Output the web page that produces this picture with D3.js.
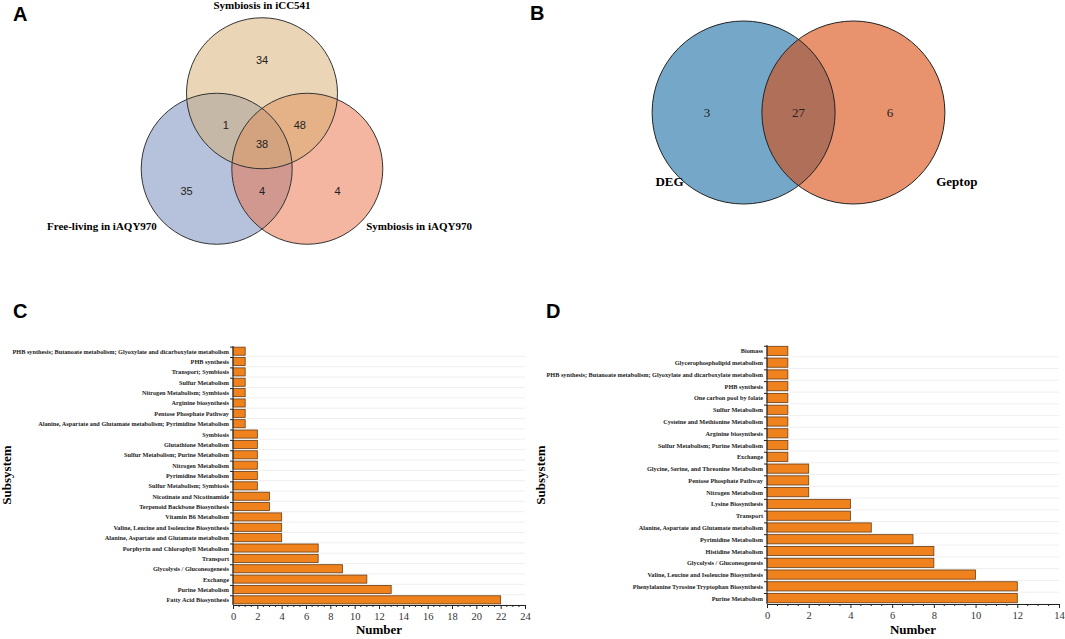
<!DOCTYPE html>
<html>
<head>
<meta charset="utf-8">
<script src="https://cdn.jsdelivr.net/npm/d3@7"></script>
<style>
body { margin: 0; background: #fff; }
svg { display: block; }
</style>
</head>
<body>
<div id="fig"></div>
<script>
// panel A: three-set venn
var vennASets = ["Symbiosis in iCC541", "Free-living in iAQY970", "Symbiosis in iAQY970"];
// regions: top only, top+left, top+right, all, left only, left+right, right only
var vennACounts = [34, 1, 48, 38, 35, 4, 4];

// panel B: two-set venn
var vennBSets = ["DEG", "Geptop"];
var vennBCounts = [3, 27, 6];

// panel C
var subsC = [
  "PHB synthesis; Butanoate metabolism; Glyoxylate and dicarboxylate metabolism",
  "PHB synthesis",
  "Transport; Symbiosis",
  "Sulfur Metabolism",
  "Nitrogen Metabolism; Symbiosis",
  "Arginine biosynthesis",
  "Pentose Phosphate Pathway",
  "Alanine, Aspartate and Glutamate metabolism; Pyrimidine Metabolism",
  "Symbiosis",
  "Glutathione Metabolism",
  "Sulfur Metabolism; Purine Metabolism",
  "Nitrogen Metabolism",
  "Pyrimidine Metabolism",
  "Sulfur Metabolism; Symbiosis",
  "Nicotinate and Nicotinamide",
  "Terpenoid Backbone Biosynthesis",
  "Vitamin B6 Metabolism",
  "Valine, Leucine and Isoleucine Biosynthesis",
  "Alanine, Aspartate and Glutamate metabolism",
  "Porphyrin and Chlorophyll Metabolism",
  "Transport",
  "Glycolysis / Gluconeogenesis",
  "Exchange",
  "Purine Metabolism",
  "Fatty Acid Biosynthesis"
];
var numC = [1, 1, 1, 1, 1, 1, 1, 1, 2, 2, 2, 2, 2, 2, 3, 3, 4, 4, 4, 7, 7, 9, 11, 13, 22];
var ticksC = [0, 2, 4, 6, 8, 10, 12, 14, 16, 18, 20, 22, 24];

// panel D
var subsD = [
  "Biomass",
  "Glycerophospholipid metabolism",
  "PHB synthesis; Butanoate metabolism; Glyoxylate and dicarboxylate metabolism",
  "PHB synthesis",
  "One carbon pool by folate",
  "Sulfur Metabolism",
  "Cysteine and Methionine Metabolism",
  "Arginine biosynthesis",
  "Sulfur Metabolism; Purine Metabolism",
  "Exchange",
  "Glycine, Serine, and Threonine Metabolism",
  "Pentose Phosphate Pathway",
  "Nitrogen Metabolism",
  "Lysine Biosynthesis",
  "Transport",
  "Alanine, Aspartate and Glutamate metabolism",
  "Pyrimidine Metabolism",
  "Histidine Metabolism",
  "Glycolysis / Gluconeogenesis",
  "Valine, Leucine and Isoleucine Biosynthesis",
  "Phenylalanine Tyrosine Tryptophan Biosynthesis",
  "Purine Metabolism"
];
var numD = [1, 1, 1, 1, 1, 1, 1, 1, 1, 1, 2, 2, 2, 4, 4, 5, 7, 8, 8, 10, 12, 12];
var ticksD = [0, 2, 4, 6, 8, 10, 12, 14];

var serif = "'Liberation Serif', 'Times New Roman', serif";
var sans = "'Liberation Sans', Arial, sans-serif";

var svg = d3.select("#fig").append("svg")
    .attr("width", 1065)
    .attr("height", 639);

// panel letters
[["A", 13, 21], ["B", 530, 20], ["C", 13, 318], ["D", 546, 318]].forEach(function(p) {
  svg.append("text")
      .attr("x", p[1]).attr("y", p[2])
      .style("font-family", sans).style("font-weight", "bold").style("font-size", "20px")
      .text(p[0]);
});

// ---------- venn A ----------
// unit layout, scaled by circle radius
var rA = 75.5;
var ax = d3.scaleLinear().domain([0, 1]).range([262, 262 + rA]);
var ay = d3.scaleLinear().domain([0, 1]).range([131, 131 + rA]);
var circA = [
  {name: vennASets[1], cx: -0.6, cy: 0.5, fill: "#6d85b9"},
  {name: vennASets[2], cx: 0.6, cy: 0.5, fill: "#e96d41"},
  {name: vennASets[0], cx: 0, cy: -0.5, fill: "#d5ad6f"}
];
var gA = svg.append("g");
gA.selectAll("circle.fill")
    .data(circA)
    .enter().append("circle")
    .attr("class", "fill")
    .attr("cx", function(d) { return ax(d.cx); })
    .attr("cy", function(d) { return ay(d.cy); })
    .attr("r", rA)
    .attr("fill", function(d) { return d.fill; })
    .attr("fill-opacity", 0.5);
gA.selectAll("circle.edge")
    .data(circA)
    .enter().append("circle")
    .attr("class", "edge")
    .attr("cx", function(d) { return ax(d.cx); })
    .attr("cy", function(d) { return ay(d.cy); })
    .attr("r", rA)
    .attr("fill", "none")
    .attr("stroke", "#333")
    .attr("stroke-width", 1);

var posA = [[0, -0.94], [-0.48, -0.08], [0.5, -0.08], [0, 0.17], [-1.0, 0.8], [0, 0.8], [1.0, 0.8]];
gA.selectAll("text.count")
    .data(vennACounts)
    .enter().append("text")
    .attr("class", "count")
    .attr("x", function(d, i) { return ax(posA[i][0]); })
    .attr("y", function(d, i) { return ay(posA[i][1]); })
    .attr("text-anchor", "middle")
    .attr("dominant-baseline", "central")
    .style("font-family", sans).style("font-size", "11px").style("fill", "#222")
    .text(function(d) { return d; });

var labA = [[0, -1.62, "middle"], [-2.12, 1.31, "middle"], [2.08, 1.31, "middle"]];
gA.selectAll("text.set")
    .data(vennASets)
    .enter().append("text")
    .attr("class", "set")
    .attr("x", function(d, i) { return ax(labA[i][0]); })
    .attr("y", function(d, i) { return ay(labA[i][1]); })
    .attr("text-anchor", "middle")
    .style("font-family", serif).style("font-weight", "bold").style("font-size", "11px")
    .text(function(d) { return d; });

// ---------- venn B ----------
var rB = 91.5;
var bx = d3.scaleLinear().domain([0, 1]).range([798.5, 798.5 + rB]);
var by = d3.scaleLinear().domain([0, 1]).range([112.5, 112.5 + rB]);
var circB = [
  {name: vennBSets[0], cx: -0.6, fill: "#176ca3"},
  {name: vennBSets[1], cx: 0.6, fill: "#d9490d"}
];
var gB = svg.append("g");
gB.selectAll("circle.fill")
    .data(circB)
    .enter().append("circle")
    .attr("class", "fill")
    .attr("cx", function(d) { return bx(d.cx); })
    .attr("cy", by(0))
    .attr("r", rB)
    .attr("fill", function(d) { return d.fill; })
    .attr("fill-opacity", 0.6);
gB.selectAll("circle.edge")
    .data(circB)
    .enter().append("circle")
    .attr("class", "edge")
    .attr("cx", function(d) { return bx(d.cx); })
    .attr("cy", by(0))
    .attr("r", rB)
    .attr("fill", "none")
    .attr("stroke", "#222")
    .attr("stroke-width", 1);
var posB = [-1.0, 0, 1.0];
gB.selectAll("text.count")
    .data(vennBCounts)
    .enter().append("text")
    .attr("class", "count")
    .attr("x", function(d, i) { return bx(posB[i]); })
    .attr("y", by(0))
    .attr("text-anchor", "middle")
    .attr("dominant-baseline", "central")
    .style("font-family", serif).style("font-size", "13px").style("fill", "#222")
    .text(function(d) { return d; });
var labB = [[-1.41, 0.8], [1.73, 0.8]];
gB.selectAll("text.set")
    .data(vennBSets)
    .enter().append("text")
    .attr("class", "set")
    .attr("x", function(d, i) { return bx(labB[i][0]); })
    .attr("y", function(d, i) { return by(labB[i][1]); })
    .attr("text-anchor", "middle")
    .style("font-family", serif).style("font-weight", "bold").style("font-size", "13px")
    .text(function(d) { return d; });

// ---------- bar charts ----------
function barChart(cats, vals, ticks, box) {
  var g = svg.append("g");
  var x = d3.scaleLinear().domain([0, ticks[ticks.length - 1]]).range([box.x0, box.x1]);
  var y = d3.scaleBand().domain(cats).range([box.y0, box.y1]).paddingInner(0.22).paddingOuter(0.11);
  var step = y.step();

  // faint gridlines between rows
  g.selectAll("line.grid")
      .data(cats)
      .enter().append("line")
      .attr("class", "grid")
      .attr("x1", box.x0).attr("x2", box.x1)
      .attr("y1", function(d) { return y(d) + y.bandwidth() + step * 0.11; })
      .attr("y2", function(d) { return y(d) + y.bandwidth() + step * 0.11; })
      .attr("stroke", "#ebebeb").attr("stroke-width", 0.8);

  g.selectAll("rect.bar")
      .data(vals)
      .enter().append("rect")
      .attr("class", "bar")
      .attr("x", x(0))
      .attr("y", function(d, i) { return y(cats[i]); })
      .attr("width", function(d) { return x(d) - x(0); })
      .attr("height", y.bandwidth())
      .attr("fill", "#f0821e")
      .attr("stroke", "#6b3d12")
      .attr("stroke-width", 0.8);

  // y axis line + ticks at bar tops
  g.append("line")
      .attr("x1", box.x0).attr("x2", box.x0)
      .attr("y1", box.y0).attr("y2", box.y1)
      .attr("stroke", "#222").attr("stroke-width", 1);
  g.selectAll("line.ytick")
      .data(cats)
      .enter().append("line")
      .attr("class", "ytick")
      .attr("x1", box.x0 - 3).attr("x2", box.x0)
      .attr("y1", function(d) { return y(d); })
      .attr("y2", function(d) { return y(d); })
      .attr("stroke", "#222").attr("stroke-width", 1);
  g.selectAll("text.ylab")
      .data(cats)
      .enter().append("text")
      .attr("class", "ylab")
      .attr("x", box.x0 - 4)
      .attr("y", function(d) { return y(d) + y.bandwidth() / 2; })
      .attr("text-anchor", "end")
      .attr("dominant-baseline", "central")
      .style("font-family", serif).style("font-weight", "bold").style("font-size", "6.25px")
      .style("fill", "#222")
      .text(function(d) { return d; });

  // x axis
  var xAxis = d3.axisBottom(x).tickValues(ticks).tickSize(4).tickSizeOuter(0);
  var ax = g.append("g")
      .attr("transform", "translate(0," + box.y1 + ")")
      .call(xAxis);
  ax.select(".domain").attr("stroke", "#222");
  ax.selectAll(".tick line").attr("stroke", "#222");
  ax.selectAll(".tick text")
      .style("font-family", serif).style("font-size", "10.5px").style("fill", "#333")
      .attr("dy", "0.8em");
  var minor = d3.range(0, ticks[ticks.length - 1] + 0.01, 0.5).filter(function(v) { return v % 2 !== 0; });
  g.selectAll("line.minor")
      .data(minor)
      .enter().append("line")
      .attr("class", "minor")
      .attr("x1", function(d) { return x(d); }).attr("x2", function(d) { return x(d); })
      .attr("y1", box.y1).attr("y2", box.y1 + 2)
      .attr("stroke", "#222").attr("stroke-width", 1);

  g.append("text")
      .attr("x", (box.x0 + box.x1) / 2)
      .attr("y", 634)
      .attr("text-anchor", "middle")
      .style("font-family", serif).style("font-weight", "bold").style("font-size", "13px")
      .text("Number");
  g.append("text")
      .attr("transform", "translate(" + box.yl + ",475) rotate(-90)")
      .attr("text-anchor", "middle")
      .style("font-family", serif).style("font-weight", "bold").style("font-size", "13px")
      .text("Subsystem");
}

barChart(subsC, numC, ticksC, {x0: 233, x1: 525, y0: 346, y1: 605, yl: 11});
barChart(subsD, numD, ticksD, {x0: 767, x1: 1059, y0: 345, y1: 604, yl: 545});
</script>
</body>
</html>
